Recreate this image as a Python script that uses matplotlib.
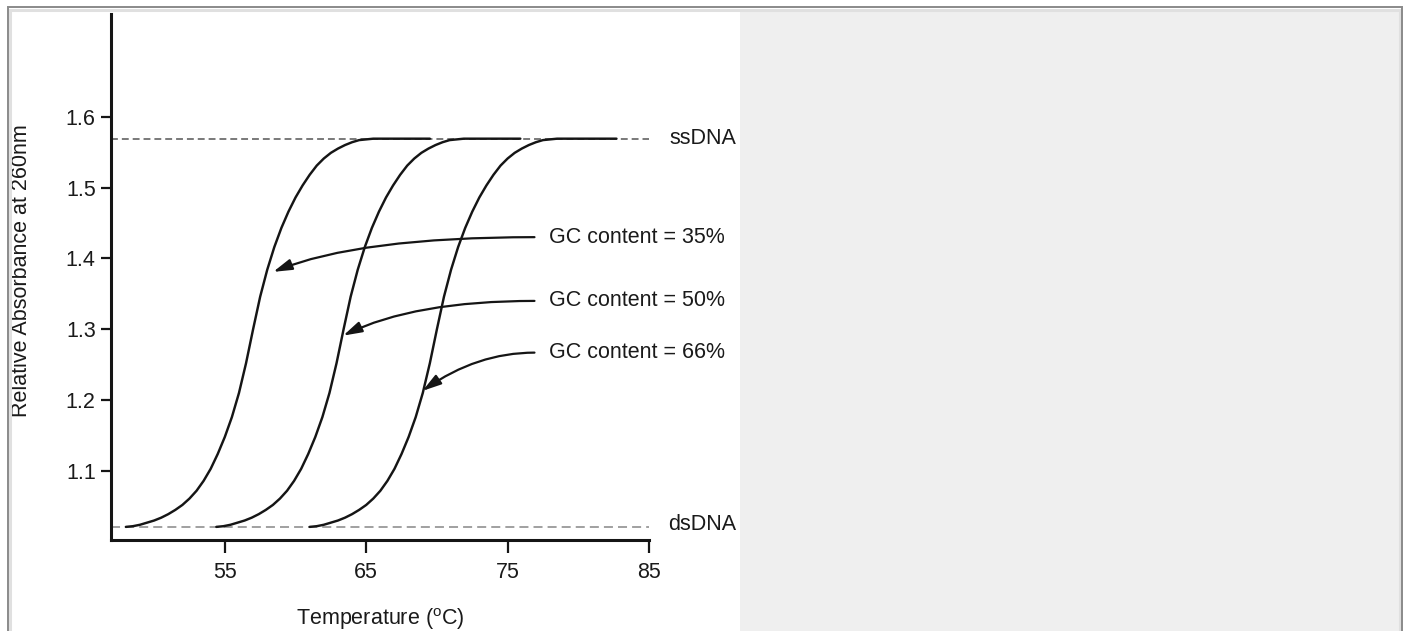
import matplotlib
matplotlib.use("Agg")
import matplotlib.pyplot as plt
from matplotlib.patches import Rectangle

plt.rcParams["font.family"] = ["Liberation Sans", "DejaVu Sans"]
plt.rcParams["mathtext.fontset"] = "custom"
plt.rcParams["mathtext.rm"] = "Liberation Sans"

# Melting curves: temperature (°C) vs relative absorbance at 260 nm
temp_gc35 = [48.0, 48.5, 49.0, 49.5, 50.0, 50.5, 51.0, 51.5, 52.0, 52.5, 53.0,
             53.5, 54.0, 54.5, 55.0, 55.5, 56.0, 56.5, 57.0, 57.5, 58.0, 58.5,
             59.0, 59.5, 60.0, 60.5, 61.0, 61.5, 62.0, 62.5, 63.0, 63.5, 64.0,
             64.5, 65.0, 65.5, 69.5]
temp_gc50 = [54.4, 54.9, 55.4, 55.9, 56.4, 56.9, 57.4, 57.9, 58.4, 58.9, 59.4,
             59.9, 60.4, 60.9, 61.4, 61.9, 62.4, 62.9, 63.4, 63.9, 64.4, 64.9,
             65.4, 65.9, 66.4, 66.9, 67.4, 67.9, 68.4, 68.9, 69.4, 69.9, 70.4,
             70.9, 71.4, 71.9, 75.9]
temp_gc66 = [61.0, 61.5, 62.0, 62.5, 63.0, 63.5, 64.0, 64.5, 65.0, 65.5, 66.0,
             66.5, 67.0, 67.5, 68.0, 68.5, 69.0, 69.5, 70.0, 70.5, 71.0, 71.5,
             72.0, 72.5, 73.0, 73.5, 74.0, 74.5, 75.0, 75.5, 76.0, 76.5, 77.0,
             77.5, 78.0, 78.5, 82.7]
absorbance = [1.021, 1.022, 1.024, 1.027, 1.030, 1.034, 1.039, 1.045, 1.052,
              1.061, 1.072, 1.086, 1.103, 1.124, 1.148, 1.176, 1.210, 1.252,
              1.300, 1.346, 1.384, 1.416, 1.443, 1.466, 1.486, 1.503, 1.518,
              1.531, 1.541, 1.549, 1.555, 1.560, 1.564, 1.567, 1.568, 1.569,
              1.569]

ss_level = 1.569
ds_level = 1.021

gc_labels = ["GC content = 35%", "GC content = 50%", "GC content = 66%"]
label_y = [1.430, 1.340, 1.267]
arrow_tips = [(58.42, 1.381), (63.37, 1.291), (68.98, 1.213)]
tip_angles = [22, 26, 35]

x_ticks = [55, 65, 75, 85]
y_ticks = [1.1, 1.2, 1.3, 1.4, 1.5, 1.6]

W, H = 1403, 631
fig = plt.figure(figsize=(W / 100, H / 100), dpi=100)
fig.patch.set_facecolor("white")

# framed panel with grey right half
fig.patches.append(Rectangle((740 / W, 0), (1400 - 740) / W, (H - 10) / H,
                             transform=fig.transFigure, facecolor="#efefef",
                             edgecolor="none", zorder=0))
fig.patches.append(Rectangle((9.5 / W, -0.1), (1399.5 - 9.5) / W, (H - 9.5) / H + 0.1,
                             transform=fig.transFigure, facecolor="none",
                             edgecolor="#e0e0e0", linewidth=2.2, zorder=1))
fig.patches.append(Rectangle((7.5 / W, -0.1), (1401.5 - 7.5) / W, (H - 6.5) / H + 0.1,
                             transform=fig.transFigure, facecolor="none",
                             edgecolor="#8a8a8a", linewidth=1.4, zorder=2))

ax = fig.add_axes([111 / W, (H - 540) / H, (649 - 111) / W, (540 - 14) / H])
ax.set_facecolor("none")
ax.set_xlim(46.95, 85)
ax.set_ylim(1.0025, 1.745)

ink = "#151515"
txt = "#1a1a1a"
for s in ("top", "right"):
    ax.spines[s].set_visible(False)
for s in ("left", "bottom"):
    ax.spines[s].set_linewidth(2.2)
    ax.spines[s].set_color(ink)
    ax.spines[s].set_capstyle("projecting")

ax.set_xticks(x_ticks)
ax.set_yticks(y_ticks)
ax.set_yticklabels([f"{v:.1f}" for v in y_ticks])
ax.tick_params(axis="y", length=7.5, width=1.6, color=ink, pad=3.5,
               labelsize=15.5, labelcolor=txt)
ax.tick_params(axis="x", length=9, width=1.6, color=ink, pad=6.5,
               labelsize=15.5, labelcolor=txt)

# reference levels
ax.plot([46.95, 85], [ss_level, ss_level], color="#555555", lw=1.1,
        dashes=(4.5, 2.6), zorder=2)
ax.plot([46.95, 85], [ds_level, ds_level], color="#999999", lw=1.3,
        dashes=(5, 2.8), zorder=2)

for t in (temp_gc35, temp_gc50, temp_gc66):
    ax.plot(t, absorbance, color=ink, lw=1.75, solid_capstyle="round",
            solid_joinstyle="round", zorder=3)

ax.text(86.45, ss_level, "ssDNA", ha="left", va="center", fontsize=15.5,
        color=txt, clip_on=False)
ax.text(86.33, ds_level + 0.004, "dsDNA", ha="left", va="center", fontsize=15.5,
        color=txt, clip_on=False)

for lab, ly, tip, ang in zip(gc_labels, label_y, arrow_tips, tip_angles):
    ax.text(77.9, ly, lab, ha="left", va="center", fontsize=15.5, color=txt)
    ax.annotate("", xy=tip, xytext=(76.9, ly),
                arrowprops=dict(arrowstyle="-|>,head_length=0.75,head_width=0.22",
                                connectionstyle=f"angle3,angleA=0,angleB={ang}",
                                color=ink, lw=1.6, shrinkA=0, shrinkB=0,
                                mutation_scale=15))

ax.set_xlabel(r"Temperature ($^{\mathrm{o}}$C)", fontsize=15.5, color=txt,
              va="top")
ax.xaxis.set_label_coords(0.5, -0.125)
ax.set_ylabel("Relative Absorbance at 260nm", fontsize=15.5, color=txt)
ax.yaxis.set_label_coords(-0.147, 0.513)

fig.savefig("out.png", dpi=100)
